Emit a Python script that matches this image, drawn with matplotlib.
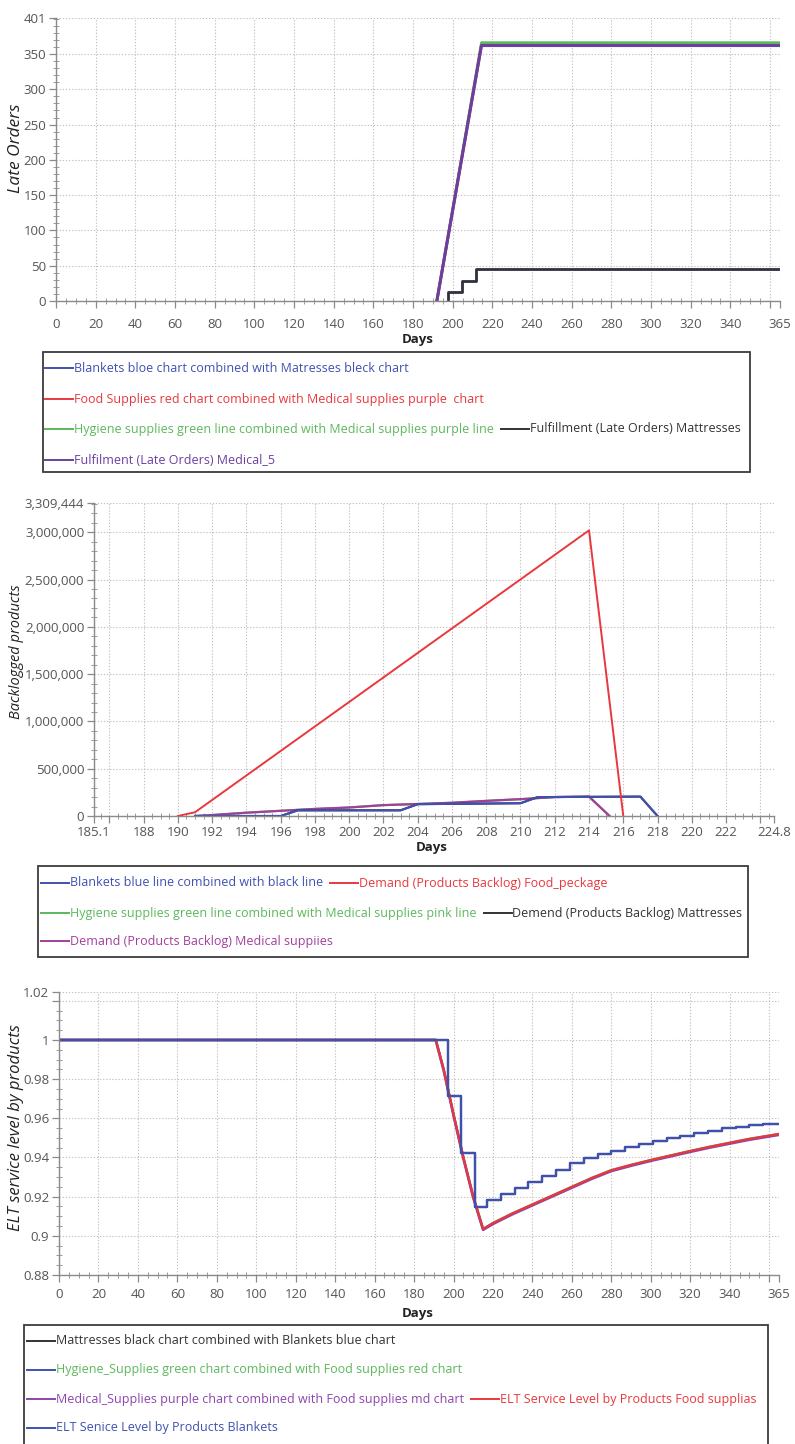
import matplotlib
matplotlib.use('Agg')
import matplotlib.pyplot as plt
import matplotlib.ticker as mt
from matplotlib.transforms import Affine2D
from matplotlib.lines import Line2D
from matplotlib.patches import Rectangle

plt.rcParams['font.family'] = ['Open Sans', 'DejaVu Sans']

# ---------------- data ----------------
# Panel 1: Late orders
p1_days_mattress = [197.5, 197.5, 204.5, 211.5, 365]
p1_mattress = [0, 13, 28, 45, 45]
p1_blankets = [0, 13, 28, 45, 45]
p1_days_medical = [192, 214.5, 365]
p1_medical = [0, 362, 362]
p1_food = [0, 362, 362]
p1_days_hygiene = [192, 214.5, 365]
p1_hygiene = [0, 366, 366]

# Panel 2: Backlogged products
p2_days_food = [190, 191, 214, 216]
p2_food = [0, 40000, 3020000, 0]
p2_days_medical = [191, 192, 194, 196, 198, 200, 202, 204, 206, 208, 210, 212, 214, 215.2]
p2_medical = [0, 10000, 35000, 55000, 75000, 90000, 115000, 127000, 140000, 160000, 178000, 200000, 205000, 0]
p2_hygiene = [0, 10000, 35000, 55000, 75000, 90000, 115000, 127000, 140000, 160000, 178000, 200000, 205000, 0]
p2_days_blankets = [191, 196, 197, 203, 204, 210, 211, 217, 218]
p2_blankets = [0, 0, 60000, 60000, 125000, 135000, 200000, 205000, 0]
p2_mattress = [0, 0, 60000, 60000, 125000, 135000, 200000, 205000, 0]

# Panel 3: ELT service level
p3_days_food = [0, 191, 195, 200, 205, 210, 215, 220, 230, 240, 250, 260, 270, 280, 290,
                300, 310, 320, 330, 340, 350, 365]
p3_food = [1.0, 1.0, 0.985, 0.962, 0.940, 0.920, 0.9035, 0.9065, 0.9115, 0.9160, 0.9205,
           0.9250, 0.9295, 0.9335, 0.9362, 0.9387, 0.9410, 0.9433, 0.9455, 0.9475, 0.9495, 0.952]
p3_medical = [1.0, 1.0, 0.9846, 0.9616, 0.9396, 0.9196, 0.9031, 0.9061, 0.9111, 0.9156, 0.9201,
              0.9246, 0.9291, 0.9331, 0.9358, 0.9383, 0.9406, 0.9429, 0.9451, 0.9471, 0.9491, 0.9516]
p3_hygiene = [1.0, 1.0, 0.985, 0.962, 0.940, 0.920, 0.9035, 0.9065, 0.9115, 0.9160, 0.9205,
              0.9250, 0.9295, 0.9335, 0.9362, 0.9387, 0.9410, 0.9433, 0.9455, 0.9475, 0.9495, 0.952]
p3_days_blankets = [0, 197, 204, 211, 217, 224, 231, 238, 245, 252, 259, 266, 273, 280, 287,
                    294, 301, 308, 315, 322, 329, 336, 343, 350, 357, 365]
p3_blankets = [1.0, 0.9715, 0.9425, 0.9145, 0.9183, 0.9214, 0.9246, 0.9276, 0.9305, 0.9336,
               0.9370, 0.9396, 0.9418, 0.9435, 0.9452, 0.9469, 0.9484, 0.9498, 0.9511, 0.9527,
               0.9537, 0.9549, 0.9557, 0.9566, 0.9571, 0.9571]
p3_mattress = list(p3_blankets)

# tick labels
p1_xticks = list(range(0, 361, 20)) + [365]
p1_xlabels = [str(v) for v in range(0, 341, 20)] + ['', '365']
p1_yticks = [0, 50, 100, 150, 200, 250, 300, 350, 401]
p2_xticks = [185.1, 186] + list(range(188, 225, 2)) + [224.8]
p2_xlabels = ['185.1', ''] + [str(v) for v in range(188, 223, 2)] + ['', '224.8']
p2_yticks = [0, 500000, 1000000, 1500000, 2000000, 2500000, 3000000, 3309444]
p3_yticks = [0.88, 0.90, 0.92, 0.94, 0.96, 0.98, 1.0, 1.02, 1.0245]
p3_ylabels = ['0.88', '0.9', '0.92', '0.94', '0.96', '0.98', '1', '', '1.02']

# colours
BLUE = '#3f51b0'
RED = '#e8383d'
GREEN = '#5cb85c'
DARK = '#333333'
PURPLE1 = '#6a3fa0'
MAGENTA = '#a23f9c'
PURPLE3 = '#8e44ad'

W, H = 795, 1444
fig = plt.figure(figsize=(W / 100, H / 100), dpi=100)
PX = Affine2D().scale(1.0 / W, -1.0 / H).translate(0, 1) + fig.transFigure


def make_axes(l, t, r, b, xpad=4):
    ax = fig.add_axes([l / W, 1 - b / H, (r - l) / W, (b - t) / H])
    for s in ('top', 'right'):
        ax.spines[s].set_visible(False)
    for s in ('left', 'bottom'):
        ax.spines[s].set_color('#8a8a8a')
        ax.spines[s].set_linewidth(1.0)
    ax.tick_params(which='major', direction='out', length=5, width=0.9, color='#8a8a8a',
                   labelcolor='#555555', labelsize=9.5)
    ax.tick_params(which='minor', direction='inout', length=4, width=0.7, color='#9a9a9a')
    ax.tick_params(axis='y', which='major', pad=2)
    ax.tick_params(axis='x', which='major', pad=xpad)
    ax.grid(True, which='major', color='#c8c0c0', linestyle=(0, (1.2, 1.6)), linewidth=0.8)
    ax.set_axisbelow(True)
    return ax


# ---------- Panel 1 ----------
ax1 = make_axes(56, 18, 780, 301, xpad=7)
ax1.plot(p1_days_mattress, p1_blankets, color=BLUE, lw=1.8, drawstyle='steps-post')
ax1.plot(p1_days_mattress, p1_mattress, color=DARK, lw=1.8, drawstyle='steps-post')
ax1.plot(p1_days_hygiene, p1_hygiene, color=GREEN, lw=2.0)
ax1.plot(p1_days_medical, p1_food, color=RED, lw=2.0)
ax1.plot(p1_days_medical, p1_medical, color=PURPLE1, lw=2.2)
ax1.set_xlim(0, 365)
ax1.set_ylim(0, 401)
ax1.set_xticks(p1_xticks)
ax1.set_xticklabels(p1_xlabels)
ax1.set_yticks(p1_yticks)
ax1.xaxis.set_minor_locator(mt.MultipleLocator(5))
ax1.yaxis.set_minor_locator(mt.MultipleLocator(10))

# ---------- Panel 2 ----------
ax2 = make_axes(94, 503, 774, 816, xpad=2)
ax2.plot(p2_days_medical, p2_hygiene, color=GREEN, lw=1.5)
ax2.plot(p2_days_medical, p2_medical, color=MAGENTA, lw=1.6)
ax2.plot(p2_days_blankets, p2_mattress, color=DARK, lw=1.5)
ax2.plot(p2_days_blankets, p2_blankets, color=BLUE, lw=1.5)
ax2.plot(p2_days_food, p2_food, color=RED, lw=1.4)
ax2.set_xlim(185.1, 224.8)
ax2.set_ylim(0, 3309444)
ax2.set_xticks(p2_xticks)
ax2.set_xticklabels(p2_xlabels)
ax2.set_yticks(p2_yticks)
ax2.yaxis.set_major_formatter(mt.FuncFormatter(lambda v, p: f'{int(round(v)):,}'))
ax2.xaxis.set_minor_locator(mt.MultipleLocator(0.5))
ax2.yaxis.set_minor_locator(mt.MultipleLocator(100000))

# ---------- Panel 3 ----------
ax3 = make_axes(59, 992, 779, 1275)
ax3.plot(p3_days_food, p3_hygiene, color=GREEN, lw=1.8)
ax3.plot(p3_days_food, p3_medical, color=PURPLE3, lw=2.0)
ax3.plot(p3_days_food, p3_food, color=RED, lw=1.6)
ax3.plot(p3_days_blankets, p3_mattress, color=DARK, lw=1.6, drawstyle='steps-post')
ax3.plot(p3_days_blankets, p3_blankets, color=BLUE, lw=1.6, drawstyle='steps-post')
ax3.set_xlim(0, 365)
ax3.set_ylim(0.88, 1.0245)
ax3.set_xticks(p1_xticks)
ax3.set_xticklabels(p1_xlabels)
ax3.set_yticks(p3_yticks)
ax3.set_yticklabels(p3_ylabels)
ax3.xaxis.set_minor_locator(mt.MultipleLocator(5))
ax3.yaxis.set_minor_locator(mt.MultipleLocator(0.005))

# axis titles
lab = dict(transform=PX, color='#222222', ha='center', va='center')
fig.text(16, 148, 'Late Orders', rotation=90, style='italic', fontsize=12.5, **lab)
fig.text(17, 652, 'Backlogged products', rotation=90, style='italic', fontsize=10.5, **lab)
fig.text(16, 1128, 'ELT service level by products', rotation=90, style='italic', fontsize=12, **lab)
fig.text(418, 340, 'Days', fontweight='bold', fontsize=9.5, **lab)
fig.text(432, 847, 'Days', fontweight='bold', fontsize=9.5, **lab)
fig.text(418, 1314, 'Days', fontweight='bold', fontsize=9.5, **lab)

# ---------- legends ----------
renderer = fig.canvas.get_renderer()
LEG_FS = 9.0


def legend_box(x0, y0, x1, y1, rows, hx, hlen=28, gap=7):
    fig.patches.append(Rectangle((x0, y0), x1 - x0, y1 - y0, transform=PX, fill=True,
                                 facecolor='white', edgecolor='#3c3c3c', linewidth=1.3,
                                 zorder=0))
    for y, entries in rows:
        x = hx
        for hcol, text, tcol in entries:
            fig.lines.append(Line2D([x, x + hlen], [y, y], transform=PX, color=hcol, lw=1.4))
            t = fig.text(x + hlen + 1, y, text, transform=PX, color=tcol, fontsize=LEG_FS,
                         ha='left', va='center')
            bb = t.get_window_extent(renderer=renderer)
            x = x + hlen + 1 + bb.width + gap


legend_box(43, 352, 750, 472, [
    (368, [(BLUE, 'Blankets bloe chart combined with Matresses bleck chart', BLUE)]),
    (399, [(RED, 'Food Supplies red chart combined with Medical supplies purple  chart', RED)]),
    (429, [(GREEN, 'Hygiene supplies green line combined with Medical supplies purple line', GREEN),
           (DARK, 'Fulfillment (Late Orders) Mattresses', DARK)]),
    (460, [(PURPLE1, 'Fulfilment (Late Orders) Medical_5', PURPLE1)]),
], hx=45)

legend_box(38, 866, 748, 957, [
    (883, [(BLUE, 'Blankets blue line combined with black line', BLUE),
           (RED, 'Demand (Products Backlog) Food_peckage', RED)]),
    (913, [(GREEN, 'Hygiene supplies green line combined with Medical supplies pink line', GREEN),
           (DARK, 'Demend (Products Backlog) Mattresses', DARK)]),
    (941, [(MAGENTA, 'Demand (Products Backlog) Medical suppiies', MAGENTA)]),
], hx=41)

legend_box(24, 1325, 768, 1446, [
    (1341, [(DARK, 'Mattresses black chart combined with Blankets blue chart', DARK)]),
    (1370, [(BLUE, 'Hygiene_Supplies green chart combined with Food supplies red chart', GREEN)]),
    (1399, [(PURPLE3, 'Medical_Supplies purple chart combined with Food supplies md chart', PURPLE3),
            (RED, 'ELT Service Level by Products Food supplias', RED)]),
    (1428, [(BLUE, 'ELT Senice Level by Products Blankets', BLUE)]),
], hx=27)

fig.savefig('out.png', dpi=100)
